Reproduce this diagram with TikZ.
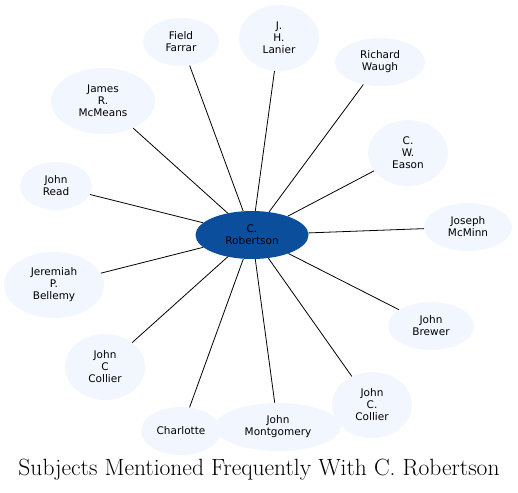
\documentclass[tikz,border=0pt]{standalone}
\usepackage{fontspec}
\newfontfamily\subjfont{DejaVu Sans}
\usetikzlibrary{shapes.geometric}
\definecolor{hubblue}{HTML}{0B4F9C}
\definecolor{subjfill}{HTML}{F2F7FF}
\begin{document}
\begin{tikzpicture}[x=1pt,y=-1pt,
  subj/.style={ellipse, fill=subjfill, inner sep=0pt, align=center,
    font=\subjfont\fontsize{10.5}{12}\selectfont},
  hub/.style={subj, fill=hubblue, minimum width=113pt, minimum height=48pt},
  link/.style={line width=0.8pt}]
  % 画布
  \useasboundingbox (0,0) rectangle (518,492);
  % 中心人物
  \node[hub] (rob) at (252,235) {C.\\Robertson};
  % 周围人物
  \node[subj, minimum width=76pt, minimum height=48pt] (farrar) at (181,42) {Field\\Farrar};
  \node[subj, minimum width=80pt, minimum height=66pt] (lanier) at (279,38) {J.\\H.\\Lanier};
  \node[subj, minimum width=90pt, minimum height=48pt] (waugh) at (380,62) {Richard\\Waugh};
  \node[subj, minimum width=104pt, minimum height=66pt] (mcmeans) at (103,101) {James\\R.\\McMeans};
  \node[subj, minimum width=80pt, minimum height=66pt] (eason) at (408,153) {C.\\W.\\Eason};
  \node[subj, minimum width=72pt, minimum height=48pt] (read) at (56,186) {John\\Read};
  \node[subj, minimum width=88pt, minimum height=48pt] (mcminn) at (468,227) {Joseph\\McMinn};
  \node[subj, minimum width=100pt, minimum height=66pt] (bellemy) at (54,285) {Jeremiah\\P.\\Bellemy};
  \node[subj, minimum width=86pt, minimum height=48pt] (brewer) at (431,326) {John\\Brewer};
  \node[subj, minimum width=80pt, minimum height=66pt] (collierl) at (105,367) {John\\C\\Collier};
  \node[subj, minimum width=80pt, minimum height=66pt] (collierr) at (372,405) {John\\C.\\Collier};
  \node[subj, minimum width=80pt, minimum height=48pt] (charlotte) at (181,431) {Charlotte};
  \node[subj, minimum width=126pt, minimum height=48pt] (montgomery) at (278,427) {John\\Montgomery};
  % 连线
  \foreach \n in {farrar,lanier,waugh,mcmeans,eason,read,mcminn,bellemy,brewer,collierl,collierr,charlotte,montgomery}
    \draw[link] (rob) -- (\n);
  % 标题
  \node[font=\fontsize{23.5}{26}\selectfont] (title) at (259,470) {Subjects Mentioned Frequently With C. Robertson};
\end{tikzpicture}
\end{document}
